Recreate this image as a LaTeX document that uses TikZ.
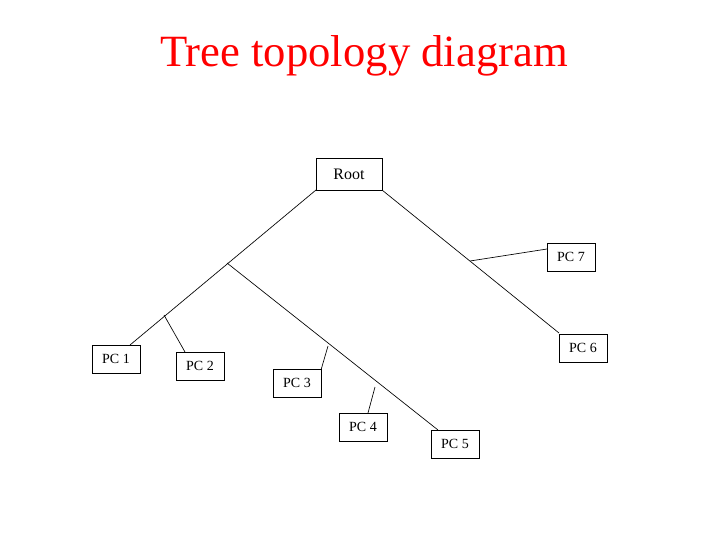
\documentclass[tikz,border=0pt]{standalone}
\usepackage{fontspec}
\setmainfont{Liberation Serif}
\begin{document}
\begin{tikzpicture}[x=0.75pt,y=-0.75pt,
  pc/.style={draw,line width=0.6pt,minimum width=48*0.75pt,minimum height=28*0.75pt,inner sep=0pt,font=\fontsize{10.5}{12}\selectfont},
  ln/.style={line width=0.5pt}]
\useasboundingbox (0,0) rectangle (728,546);
\node[text=red,font=\fontsize{33.5}{38}\selectfont] (title) at (364,56) {Tree topology diagram};
\node[pc,minimum width=66*0.75pt,minimum height=32*0.75pt,font=\fontsize{12}{14}\selectfont] (root) at (349,174) {Root};
\node[pc] (pc7) at (571,257) {PC 7};
\node[pc] (pc6) at (583,348) {PC 6};
\node[pc] (pc1) at (116,359) {PC 1};
\node[pc] (pc2) at (200,366) {PC 2};
\node[pc] (pc3) at (297,383) {PC 3};
\node[pc] (pc4) at (363,427) {PC 4};
\node[pc] (pc5) at (455,444) {PC 5};
\coordinate (rl) at (316,190);
\coordinate (e1) at (130,345);
\coordinate (b) at (227,263);
\coordinate (b2) at (164,315);
\coordinate (e2) at (185,352);
\coordinate (e5) at (438,430);
\coordinate (b3) at (328,346);
\coordinate (e3) at (321,370);
\coordinate (b4) at (375,387);
\coordinate (e4) at (368,413);
\coordinate (rr) at (382,190);
\coordinate (e6) at (559,333);
\coordinate (b7) at (470,261);
\coordinate (e7) at (547,249);
\draw[ln] (rl) -- (e1);
\draw[ln] (b2) -- (e2);
\draw[ln] (b) -- (e5);
\draw[ln] (b3) -- (e3);
\draw[ln] (b4) -- (e4);
\draw[ln] (rr) -- (e6);
\draw[ln] (b7) -- (e7);
\end{tikzpicture}
\end{document}
